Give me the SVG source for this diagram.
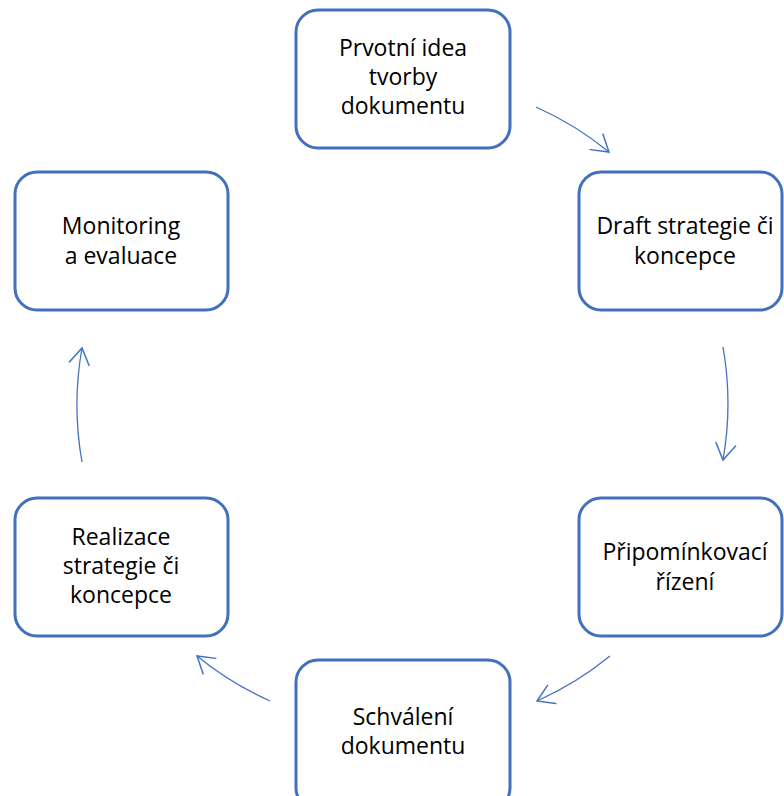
<svg xmlns="http://www.w3.org/2000/svg" width="784" height="796" viewBox="0 0 784 796">
<style>
.box{fill:#fff;stroke:#4170BF;stroke-width:3}
.lbl{font-family:"Open Sans","Liberation Sans",sans-serif;font-size:23px;fill:#000;text-anchor:middle}
.arr{fill:none;stroke:#4472C4;stroke-width:1.3;marker-end:url(#ah)}
</style>
<defs>
<marker id="ah" markerUnits="userSpaceOnUse" markerWidth="24" markerHeight="24" refX="0" refY="0" viewBox="-20 -12 24 24" orient="auto">
<path d="M-16,-10 L0,0 L-16,10" fill="none" stroke="#4472C4" stroke-width="1.5" stroke-linecap="round"/>
</marker>
</defs>
<rect width="784" height="796" fill="#fff"/>
<g id="connectors">
<path class="arr" d="M536,107 A325,325 0 0 1 609,152"/>
<path class="arr" d="M723,347 A325,325 0 0 1 723,460"/>
<path class="arr" d="M610,656 A325,325 0 0 1 537,701"/>
<path class="arr" d="M270,701 A325,325 0 0 1 197,656"/>
<path class="arr" d="M82,462 A325,325 0 0 1 82,348"/>
</g>
<g id="n1">
<rect class="box" x="296" y="10" width="214" height="138" rx="22"/>
<text class="lbl" x="403" y="56">Prvotní idea</text>
<text class="lbl" x="403" y="85">tvorby</text>
<text class="lbl" x="403" y="114">dokumentu</text>
</g>
<g id="n2">
<rect class="box" x="579" y="172" width="203" height="138" rx="22"/>
<text class="lbl" x="685" y="234">Draft strategie či</text>
<text class="lbl" x="685" y="264">koncepce</text>
</g>
<g id="n3">
<rect class="box" x="579" y="498" width="203" height="138" rx="22"/>
<text class="lbl" x="685" y="560">Připomínkovací</text>
<text class="lbl" x="685" y="590">řízení</text>
</g>
<g id="n4">
<rect class="box" x="296" y="660" width="214" height="150" rx="22"/>
<text class="lbl" x="403" y="725">Schválení</text>
<text class="lbl" x="403" y="754">dokumentu</text>
</g>
<g id="n5">
<rect class="box" x="15" y="498" width="213" height="138" rx="22"/>
<text class="lbl" x="121" y="545">Realizace</text>
<text class="lbl" x="121" y="574">strategie či</text>
<text class="lbl" x="121" y="603">koncepce</text>
</g>
<g id="n6">
<rect class="box" x="15" y="172" width="213" height="138" rx="22"/>
<text class="lbl" x="121" y="234">Monitoring</text>
<text class="lbl" x="121" y="264">a evaluace</text>
</g>
</svg>
